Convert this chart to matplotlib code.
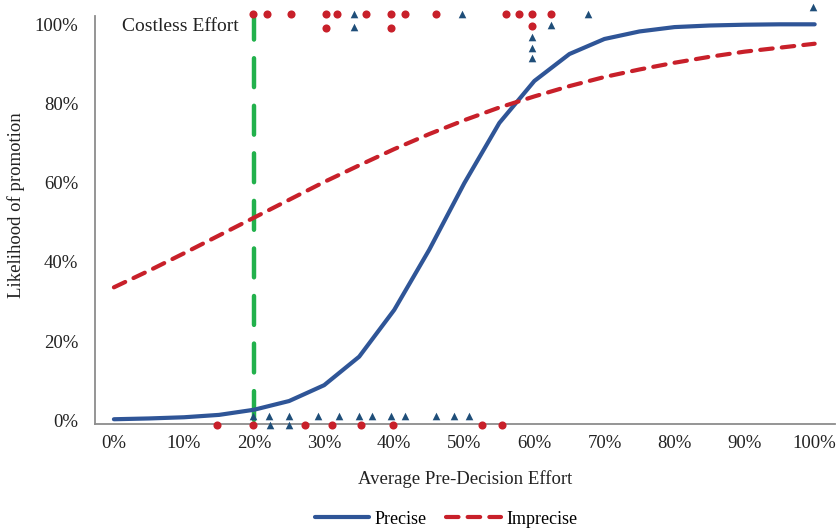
import matplotlib
matplotlib.use("Agg")
import matplotlib.pyplot as plt
from matplotlib.ticker import FuncFormatter

plt.rcParams["font.family"] = ["Liberation Serif", "DejaVu Serif"]

# effort grid (percent) and fitted promotion likelihoods (percent)
effort = [0, 5, 10, 15, 20, 25, 30, 35, 40, 45, 50, 55, 60, 65, 70, 75, 80, 85, 90, 95, 100]
precise = [0.3, 0.5, 0.8, 1.4, 2.7, 4.9, 8.9, 16.1, 27.9, 43.1, 59.9, 75.1, 85.7, 92.5,
           96.3, 98.2, 99.3, 99.7, 99.9, 100.0, 100.0]
imprecise = [33.6, 37.8, 42.2, 46.7, 51.2, 55.7, 60.2, 64.4, 68.5, 72.3, 75.8, 79.0, 81.8,
             84.4, 86.7, 88.6, 90.3, 91.8, 93.1, 94.1, 95.1]

costless_effort = 20

# observed outcomes: imprecise (red dots) and precise (blue triangles)
imp_obs_x = [19.9, 21.8, 25.3, 30.2, 31.9, 36.0, 39.5, 41.5, 45.9, 55.9, 57.8, 59.6, 62.4,
             30.2, 39.5, 59.6,
             14.7, 19.9, 27.3, 31.1, 35.2, 39.8, 52.5, 55.4]
imp_obs_y = [102.5] * 13 + [99.1, 99.1, 99.5] + [-1.1] * 8

pre_obs_x = [34.2, 49.7, 67.7, 99.7, 34.2, 62.4, 59.6, 59.6, 59.6,
             19.9, 22.2, 25.0, 29.1, 32.1, 35.0, 36.8, 39.5, 41.5, 45.9, 48.5, 50.6,
             22.3, 25.0]
pre_obs_y = [102.5, 102.5, 102.5, 104.4, 99.3, 99.9, 96.7, 94.0, 91.5] + [1.2] * 12 + [-1.1] * 2

BLUE = "#2F5597"
RED = "#C8202A"
TRI = "#1F4E79"
GREEN = "#22B14C"

fig = plt.figure(figsize=(8.39, 5.28), dpi=100)
ax = fig.add_axes([95 / 839, 104 / 528, 740 / 839, 408 / 528])

ax.plot([costless_effort, costless_effort], [0, 101.5], color=GREEN, lw=3.2,
        dashes=(6.5, 4.2), dash_capstyle="round", zorder=2)
ax.plot(effort, precise, color=BLUE, lw=3.0, solid_capstyle="round", label="Precise", zorder=3)
ax.plot(effort, imprecise, color=RED, lw=3.0, dashes=(3.0, 2.2), dash_capstyle="round",
        label="Imprecise", zorder=3)

ax.scatter(imp_obs_x, imp_obs_y, s=34, color=RED, marker="o", linewidths=0,
           clip_on=False, zorder=4)
ax.scatter(pre_obs_x, pre_obs_y, s=30, color=TRI, marker="^", linewidths=0,
           clip_on=False, zorder=4)

ax.text(1.1, 99.4, "Costless Effort", fontsize=14, va="center", ha="left", color="#222222")

ax.set_xlim(-2.7, 102.9)
ax.set_ylim(-0.9, 102.1)
ax.set_xticks(range(0, 101, 10))
ax.set_yticks(range(0, 101, 20))
pct = FuncFormatter(lambda v, _: f"{v:.0f}%")
ax.xaxis.set_major_formatter(pct)
ax.yaxis.set_major_formatter(pct)
ax.tick_params(length=0, labelsize=13.5, colors="#222222")
ax.tick_params(axis="x", pad=8)
ax.tick_params(axis="y", pad=12)

for side in ("top", "right"):
    ax.spines[side].set_visible(False)
for side in ("left", "bottom"):
    ax.spines[side].set_color("#8C8C8C")
    ax.spines[side].set_linewidth(1.3)

ax.set_xlabel("Average Pre-Decision Effort", fontsize=13.5, labelpad=13, color="#222222")
ax.set_ylabel("Likelihood of promotion", fontsize=13.5, color="#222222")
ax.yaxis.set_label_coords(-0.094, 0.537)

fig.legend(loc="center", bbox_to_anchor=(446 / 839, 9 / 528), ncol=2, frameon=False,
           fontsize=13, handlelength=3.0, columnspacing=1.1, handletextpad=0.3)

fig.savefig("out.png", dpi=100)
